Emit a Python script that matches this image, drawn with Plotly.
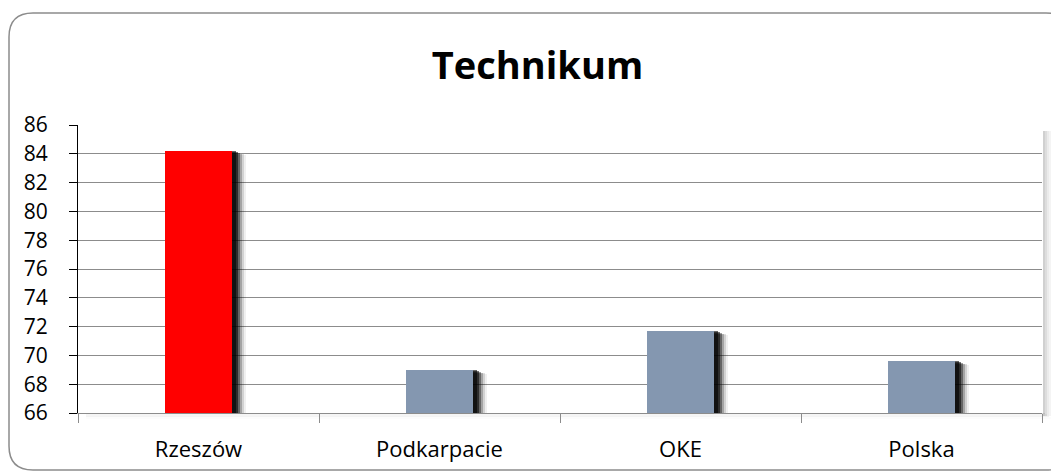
import plotly.graph_objects as go

categories = ["Rzeszów", "Podkarpacie", "OKE", "Polska"]
values = [84.2, 69.0, 71.7, 69.6]
bar_colors = ["#FF0000", "#8497B0", "#8497B0", "#8497B0"]
y_min, y_max, y_step = 66, 86, 2
title_text = "Technikum"

# page body has an 8px margin, so the figure is sized to fill the rest
W, H = 1051, 465
L, R, T, B = 70, 17, 117, 60
plot_w = W - L - R
plot_h = H - T - B
px_x = 1.0 / (plot_w / len(categories))  # category units per pixel
px_y = (y_max - y_min) / plot_h          # data units per pixel
bw = 0.275
FONT = "Open Sans, Lato, sans-serif"

fig = go.Figure()

# soft drop shadows for bars
for dx, dy, op in [(14, 4, 0.06), (12, 3, 0.12), (10, 3, 0.22), (8, 2, 0.38), (6, 1, 0.55), (4, 0, 0.6)]:
    base = y_min - dy * px_y - 2 * px_y
    fig.add_trace(go.Bar(
        x=categories,
        y=[v - base - dy * px_y for v in values],
        base=[base] * len(values),
        width=bw,
        offset=-bw / 2 + dx * px_x,
        marker=dict(color="black", opacity=op, line=dict(width=0)),
        hoverinfo="skip", showlegend=False,
    ))

fig.add_trace(go.Bar(
    x=categories,
    y=[v - y_min for v in values],
    base=[y_min] * len(values),
    width=bw,
    marker=dict(color=bar_colors, line=dict(width=0)),
    showlegend=False,
))


def px2paper_x(p):
    return (p - L) / plot_w


def px2paper_y(p):
    return (H - B - p) / plot_h


# chart border (rounded rectangle)
x0, x1 = px2paper_x(1), px2paper_x(1062)
y1, y0 = px2paper_y(5), px2paper_y(462)
rx, ry = 24 / plot_w, 24 / plot_h
path = (f"M {x0+rx},{y1} L {x1-rx},{y1} Q {x1},{y1} {x1},{y1-ry} "
        f"L {x1},{y0+ry} Q {x1},{y0} {x1-rx},{y0} L {x0+rx},{y0} "
        f"Q {x0},{y0} {x0},{y0+ry} L {x0},{y1-ry} Q {x0},{y1} {x0+rx},{y1} Z")
shapes = [dict(type="path", xref="paper", yref="paper", path=path,
               line=dict(color="#8C8C8C", width=1.5), layer="below")]

# plot area shadow on right and bottom
for i, op in enumerate([0.35, 0.25, 0.15, 0.08]):
    shapes.append(dict(type="rect", xref="paper", yref="paper",
                       x0=1 + (1 + i * 2) / plot_w, x1=1 + (3 + i * 2) / plot_w,
                       y0=-3 / plot_h, y1=1 - 6 / plot_h,
                       fillcolor=f"rgba(120,120,120,{op})", line=dict(width=0), layer="below"))
    shapes.append(dict(type="rect", xref="paper", yref="paper",
                       x0=8 / plot_w, x1=1 + (3 + i * 2) / plot_w,
                       y0=-(1 + i * 1.5) / plot_h, y1=-(i * 1.5) / plot_h,
                       fillcolor=f"rgba(120,120,120,{op*0.6})", line=dict(width=0), layer="below"))

fig.update_layout(
    width=W, height=H,
    margin=dict(l=L, r=R, t=T, b=B, autoexpand=False),
    paper_bgcolor="white", plot_bgcolor="white",
    barmode="overlay",
    bargap=0,
    title=dict(text=f"<b>{title_text}</b>", x=529.5 / W, xanchor="center",
               y=1 - 57.5 / H, yanchor="middle", yref="container",
               font=dict(family=FONT, size=38, color="black")),
    font=dict(family=FONT, size=21, color="black"),
    shapes=shapes,
)

fig.update_xaxes(
    type="category",
    showline=True, linecolor="#8C8C8C", linewidth=1,
    ticks="outside", ticklen=9, tickcolor="#8C8C8C",
    tickson="boundaries",
    showgrid=False,
    tickfont=dict(size=22),
    ticklabelstandoff=17,
    automargin=False,
)
fig.update_yaxes(
    range=[y_min, y_max], dtick=y_step, tick0=y_min,
    showline=True, linecolor="black", linewidth=1,
    ticks="outside", ticklen=8, tickcolor="black",
    showgrid=True, gridcolor="#8C8C8C", gridwidth=1,
    zeroline=False,
    tickfont=dict(size=21),
    ticklabelstandoff=17,
    automargin=False,
)

fig.write_html("out.html")
